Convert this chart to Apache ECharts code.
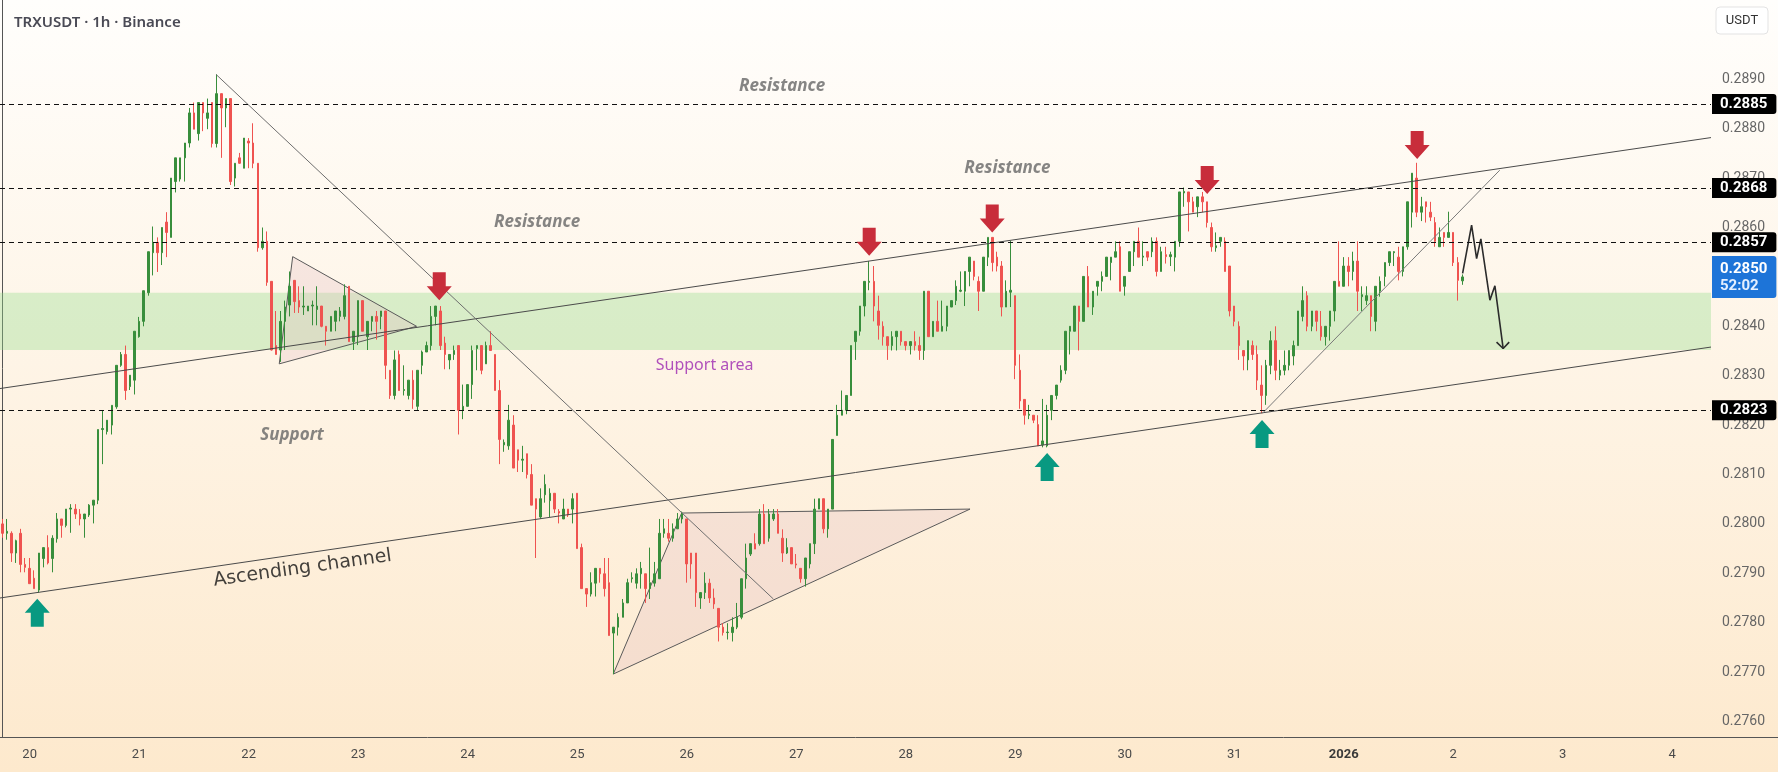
<!DOCTYPE html>
<html>
<head>
<meta charset="utf-8">
<title>TRXUSDT 1h</title>
<script src="https://cdn.jsdelivr.net/npm/echarts@6/dist/echarts.min.js"></script>
<style>
  html, body { margin: 0; padding: 0; }
  #main { width: 1778px; height: 772px; }
</style>
</head>
<body>
<div id="main"></div>
<script>
// hourly candles, first one = 19 Dec 18:00, last one = 2 Jan 02:00
var opens = [
  0.28000,0.27981,0.27981,0.27941,0.27981,0.27918,0.27910,0.27890,0.27866,0.27930,
  0.27952,0.27930,0.27970,0.28010,0.27997,0.28030,0.28030,0.28020,0.28010,0.28018,
  0.28038,0.28048,0.28191,0.28187,0.28200,0.28237,0.28321,0.28343,0.28278,0.28291,
  0.28379,0.28410,0.28468,0.28549,0.28570,0.28549,0.28611,0.28580,0.28693,0.28698,
  0.28741,0.28771,0.28832,0.28790,0.28853,0.28821,0.28853,0.28770,0.28871,0.28842,
  0.28861,0.28700,0.28741,0.28720,0.28775,0.28771,0.28730,0.28559,0.28572,0.28491,
  0.28361,0.28352,0.28410,0.28443,0.28493,0.28452,0.28439,0.28431,0.28441,0.28434,
  0.28441,0.28400,0.28390,0.28410,0.28420,0.28420,0.28481,0.28369,0.28379,0.28452,
  0.28379,0.28410,0.28420,0.28420,0.28431,0.28311,0.28260,0.28343,0.28270,0.28260,
  0.28291,0.28238,0.28321,0.28348,0.28361,0.28420,0.28431,0.28366,0.28332,0.28343,
  0.28361,0.28230,0.28238,0.28282,0.28355,0.28361,0.28324,0.28361,0.28343,0.28270,
  0.28160,0.28158,0.28200,0.28150,0.28129,0.28142,0.28100,0.28051,0.28014,0.28059,
  0.28047,0.28062,0.28025,0.28010,0.28030,0.28030,0.28062,0.27952,0.27869,0.27858,
  0.27880,0.27910,0.27899,0.27881,0.27779,0.27791,0.27811,0.27840,0.27889,0.27880,
  0.27899,0.27899,0.27869,0.27880,0.27889,0.27981,0.27981,0.27971,0.27990,0.28010,
  0.28010,0.27941,0.27941,0.27850,0.27861,0.27880,0.27850,0.27829,0.27791,0.27780,
  0.27780,0.27791,0.27811,0.27889,0.27939,0.27960,0.27960,0.28020,0.27971,0.28010,
  0.28020,0.27971,0.27941,0.27952,0.27919,0.27910,0.27889,0.27919,0.27960,0.28030,
  0.28051,0.27990,0.28030,0.28179,0.28220,0.28230,0.28260,0.28369,0.28390,0.28441,
  0.28489,0.28491,0.28431,0.28400,0.28379,0.28361,0.28379,0.28390,0.28369,0.28361,
  0.28369,0.28361,0.28351,0.28471,0.28379,0.28410,0.28390,0.28400,0.28439,0.28452,
  0.28471,0.28471,0.28511,0.28532,0.28491,0.28471,0.28540,0.28580,0.28540,0.28522,
  0.28439,0.28469,0.28462,0.28311,0.28252,0.28220,0.28220,0.28201,0.28160,0.28158,
  0.28230,0.28260,0.28291,0.28311,0.28390,0.28390,0.28441,0.28410,0.28501,0.28439,
  0.28481,0.28491,0.28501,0.28529,0.28540,0.28561,0.28481,0.28511,0.28551,0.28572,
  0.28540,0.28551,0.28551,0.28572,0.28511,0.28545,0.28541,0.28540,0.28572,0.28670,
  0.28672,0.28652,0.28642,0.28662,0.28652,0.28600,0.28559,0.28572,0.28572,0.28522,
  0.28441,0.28400,0.28351,0.28332,0.28361,0.28343,0.28281,0.28260,0.28321,0.28371,
  0.28301,0.28311,0.28321,0.28340,0.28361,0.28420,0.28462,0.28400,0.28431,0.28400,
  0.28379,0.28400,0.28431,0.28491,0.28481,0.28522,0.28511,0.28532,0.28460,0.28452,
  0.28462,0.28410,0.28471,0.28501,0.28529,0.28549,0.28540,0.28511,0.28561,0.28631,
  0.28700,0.28631,0.28652,0.28631,0.28610,0.28561,0.28590,0.28580,0.28590,0.28529,0.28492
];
var highs = [
  0.28010,0.28010,0.27985,0.27968,0.27990,0.27931,0.27931,0.27906,0.27941,0.27952,
  0.27977,0.27977,0.28022,0.28010,0.28030,0.28040,0.28040,0.28030,0.28020,0.28040,
  0.28048,0.28191,0.28230,0.28210,0.28240,0.28321,0.28348,0.28361,0.28301,0.28390,
  0.28419,0.28472,0.28551,0.28602,0.28580,0.28600,0.28631,0.28700,0.28741,0.28741,
  0.28771,0.28842,0.28853,0.28853,0.28853,0.28861,0.28853,0.28910,0.28871,0.28861,
  0.28861,0.28730,0.28751,0.28781,0.28781,0.28811,0.28730,0.28600,0.28592,0.28491,
  0.28431,0.28431,0.28452,0.28511,0.28493,0.28481,0.28481,0.28441,0.28452,0.28481,
  0.28441,0.28400,0.28420,0.28431,0.28439,0.28485,0.28481,0.28390,0.28452,0.28452,
  0.28410,0.28420,0.28431,0.28431,0.28431,0.28311,0.28351,0.28351,0.28321,0.28291,
  0.28311,0.28311,0.28351,0.28369,0.28441,0.28441,0.28441,0.28379,0.28343,0.28361,
  0.28361,0.28282,0.28282,0.28361,0.28361,0.28361,0.28369,0.28390,0.28343,0.28291,
  0.28171,0.28241,0.28220,0.28150,0.28158,0.28142,0.28121,0.28051,0.28072,0.28100,
  0.28072,0.28062,0.28030,0.28051,0.28030,0.28062,0.28062,0.27960,0.27869,0.27902,
  0.27910,0.27910,0.27931,0.27931,0.27791,0.27819,0.27848,0.27889,0.27902,0.27910,
  0.27923,0.27899,0.27952,0.27923,0.28010,0.28010,0.28010,0.28001,0.28022,0.28025,
  0.28010,0.27941,0.27941,0.27861,0.27902,0.27889,0.27869,0.27829,0.27799,0.27799,
  0.27811,0.27840,0.27889,0.27960,0.27960,0.27981,0.28030,0.28040,0.28030,0.28030,
  0.28030,0.27989,0.27971,0.27952,0.27939,0.27910,0.27931,0.27960,0.28051,0.28051,
  0.28051,0.28030,0.28171,0.28241,0.28270,0.28260,0.28361,0.28390,0.28441,0.28491,
  0.28532,0.28522,0.28462,0.28410,0.28379,0.28390,0.28390,0.28390,0.28369,0.28369,
  0.28390,0.28379,0.28471,0.28471,0.28410,0.28452,0.28452,0.28441,0.28452,0.28493,
  0.28511,0.28511,0.28540,0.28532,0.28501,0.28540,0.28580,0.28580,0.28551,0.28532,
  0.28493,0.28573,0.28462,0.28343,0.28252,0.28241,0.28220,0.28220,0.28253,0.28241,
  0.28260,0.28281,0.28321,0.28390,0.28400,0.28441,0.28441,0.28501,0.28522,0.28471,
  0.28491,0.28511,0.28540,0.28540,0.28572,0.28572,0.28501,0.28551,0.28572,0.28600,
  0.28572,0.28551,0.28580,0.28580,0.28561,0.28561,0.28551,0.28572,0.28672,0.28681,
  0.28672,0.28662,0.28662,0.28672,0.28652,0.28610,0.28590,0.28580,0.28580,0.28522,
  0.28441,0.28410,0.28351,0.28371,0.28371,0.28361,0.28321,0.28332,0.28390,0.28400,
  0.28332,0.28351,0.28351,0.28371,0.28431,0.28481,0.28471,0.28431,0.28431,0.28431,
  0.28400,0.28431,0.28491,0.28572,0.28540,0.28540,0.28551,0.28572,0.28481,0.28481,
  0.28462,0.28481,0.28501,0.28529,0.28551,0.28552,0.28561,0.28561,0.28652,0.28710,
  0.28731,0.28662,0.28652,0.28652,0.28621,0.28600,0.28590,0.28632,0.28590,0.28540,0.28505
];
var lows = [
  0.27972,0.27968,0.27923,0.27921,0.27902,0.27902,0.27879,0.27869,0.27861,0.27912,
  0.27918,0.27902,0.27962,0.27972,0.27993,0.27982,0.28010,0.27997,0.27972,0.28014,
  0.28001,0.28040,0.28121,0.28181,0.28181,0.28233,0.28318,0.28251,0.28271,0.28262,
  0.28377,0.28400,0.28462,0.28503,0.28510,0.28524,0.28540,0.28580,0.28671,0.28693,
  0.28693,0.28762,0.28799,0.28776,0.28795,0.28799,0.28762,0.28762,0.28741,0.28803,
  0.28686,0.28683,0.28729,0.28720,0.28720,0.28720,0.28551,0.28555,0.28482,0.28351,
  0.28343,0.28328,0.28352,0.28420,0.28427,0.28427,0.28423,0.28431,0.28402,0.28402,
  0.28398,0.28361,0.28390,0.28390,0.28410,0.28414,0.28369,0.28352,0.28362,0.28390,
  0.28352,0.28390,0.28373,0.28394,0.28293,0.28253,0.28252,0.28270,0.28260,0.28252,
  0.28233,0.28230,0.28303,0.28348,0.28351,0.28402,0.28352,0.28313,0.28313,0.28332,
  0.28181,0.28212,0.28238,0.28253,0.28311,0.28303,0.28324,0.28351,0.28270,0.28121,
  0.28146,0.28150,0.28113,0.28105,0.28105,0.28092,0.28038,0.27931,0.28010,0.28043,
  0.28014,0.28022,0.28001,0.28010,0.28014,0.28001,0.27950,0.27869,0.27832,0.27853,
  0.27853,0.27881,0.27853,0.27774,0.27696,0.27774,0.27811,0.27840,0.27881,0.27869,
  0.27869,0.27840,0.27848,0.27873,0.27889,0.27972,0.27964,0.27964,0.27990,0.28001,
  0.27881,0.27889,0.27832,0.27828,0.27848,0.27840,0.27828,0.27762,0.27774,0.27766,
  0.27762,0.27787,0.27807,0.27869,0.27935,0.27949,0.27956,0.27960,0.27964,0.28006,
  0.27981,0.27923,0.27939,0.27919,0.27910,0.27881,0.27873,0.27910,0.27939,0.28030,
  0.27981,0.27972,0.28030,0.28179,0.28220,0.28222,0.28260,0.28332,0.28381,0.28420,
  0.28473,0.28410,0.28373,0.28361,0.28332,0.28351,0.28351,0.28361,0.28351,0.28343,
  0.28351,0.28332,0.28332,0.28379,0.28379,0.28390,0.28390,0.28390,0.28439,0.28443,
  0.28469,0.28441,0.28481,0.28493,0.28431,0.28471,0.28522,0.28511,0.28511,0.28420,
  0.28439,0.28439,0.28293,0.28233,0.28201,0.28212,0.28204,0.28158,0.28155,0.28155,
  0.28210,0.28252,0.28286,0.28303,0.28343,0.28390,0.28351,0.28410,0.28439,0.28423,
  0.28462,0.28471,0.28501,0.28493,0.28540,0.28471,0.28462,0.28511,0.28522,0.28540,
  0.28522,0.28532,0.28540,0.28501,0.28511,0.28527,0.28522,0.28511,0.28561,0.28642,
  0.28592,0.28631,0.28621,0.28631,0.28600,0.28551,0.28551,0.28561,0.28511,0.28420,
  0.28400,0.28332,0.28311,0.28311,0.28332,0.28271,0.28224,0.28241,0.28303,0.28291,
  0.28291,0.28301,0.28311,0.28321,0.28361,0.28410,0.28390,0.28390,0.28390,0.28371,
  0.28361,0.28371,0.28410,0.28481,0.28481,0.28481,0.28493,0.28431,0.28431,0.28443,
  0.28390,0.28390,0.28460,0.28481,0.28522,0.28522,0.28493,0.28501,0.28555,0.28600,
  0.28621,0.28613,0.28610,0.28613,0.28561,0.28561,0.28561,0.28580,0.28522,0.28452,0.28484
];
var closes = [
  0.27981,0.27985,0.27941,0.27966,0.27918,0.27912,0.27879,0.27869,0.27941,0.27952,
  0.27921,0.27971,0.28010,0.27997,0.28030,0.28032,0.28020,0.28010,0.28020,0.28038,
  0.28048,0.28191,0.28193,0.28210,0.28240,0.28321,0.28343,0.28270,0.28301,0.28390,
  0.28410,0.28472,0.28551,0.28570,0.28549,0.28600,0.28590,0.28700,0.28741,0.28741,
  0.28771,0.28832,0.28799,0.28853,0.28832,0.28832,0.28770,0.28871,0.28842,0.28861,
  0.28693,0.28730,0.28730,0.28781,0.28771,0.28730,0.28559,0.28572,0.28489,0.28352,
  0.28343,0.28410,0.28439,0.28481,0.28450,0.28439,0.28441,0.28441,0.28443,0.28441,
  0.28400,0.28390,0.28420,0.28431,0.28431,0.28462,0.28369,0.28390,0.28452,0.28390,
  0.28410,0.28420,0.28410,0.28431,0.28321,0.28260,0.28332,0.28270,0.28272,0.28291,
  0.28252,0.28311,0.28348,0.28361,0.28420,0.28441,0.28361,0.28343,0.28343,0.28351,
  0.28230,0.28238,0.28282,0.28351,0.28361,0.28311,0.28361,0.28351,0.28270,0.28171,
  0.28165,0.28210,0.28113,0.28129,0.28131,0.28100,0.28038,0.28030,0.28051,0.28080,
  0.28062,0.28030,0.28022,0.28030,0.28018,0.28051,0.27950,0.27869,0.27858,0.27881,
  0.27910,0.27899,0.27869,0.27774,0.27791,0.27811,0.27840,0.27881,0.27891,0.27899,
  0.27910,0.27869,0.27881,0.27899,0.27981,0.27990,0.27971,0.27990,0.28010,0.28022,
  0.27919,0.27919,0.27861,0.27861,0.27880,0.27850,0.27838,0.27791,0.27780,0.27781,
  0.27791,0.27811,0.27889,0.27931,0.27960,0.27949,0.28020,0.27960,0.28020,0.28020,
  0.27981,0.27941,0.27952,0.27919,0.27917,0.27889,0.27931,0.27960,0.28030,0.28051,
  0.27990,0.28030,0.28171,0.28220,0.28230,0.28260,0.28361,0.28390,0.28441,0.28491,
  0.28491,0.28441,0.28402,0.28379,0.28361,0.28379,0.28390,0.28369,0.28361,0.28369,
  0.28361,0.28351,0.28471,0.28379,0.28410,0.28390,0.28400,0.28441,0.28452,0.28481,
  0.28473,0.28511,0.28540,0.28501,0.28471,0.28540,0.28580,0.28529,0.28522,0.28439,
  0.28471,0.28473,0.28321,0.28249,0.28220,0.28222,0.28210,0.28158,0.28168,0.28220,
  0.28260,0.28281,0.28311,0.28390,0.28400,0.28441,0.28410,0.28501,0.28439,0.28471,
  0.28491,0.28501,0.28540,0.28540,0.28551,0.28471,0.28501,0.28551,0.28572,0.28540,
  0.28542,0.28540,0.28572,0.28511,0.28551,0.28541,0.28545,0.28572,0.28672,0.28673,
  0.28652,0.28631,0.28662,0.28652,0.28610,0.28561,0.28563,0.28580,0.28511,0.28431,
  0.28410,0.28361,0.28340,0.28371,0.28343,0.28291,0.28260,0.28321,0.28371,0.28311,
  0.28311,0.28321,0.28351,0.28361,0.28431,0.28452,0.28400,0.28431,0.28410,0.28379,
  0.28400,0.28431,0.28491,0.28481,0.28522,0.28511,0.28532,0.28471,0.28464,0.28462,
  0.28420,0.28481,0.28491,0.28529,0.28551,0.28551,0.28511,0.28561,0.28652,0.28710,
  0.28631,0.28642,0.28642,0.28621,0.28572,0.28580,0.28580,0.28590,0.28529,0.28493,0.28500
];

// day labels under each midnight (first midnight is slot 6)
var dayLabels = ['20', '21', '22', '23', '24', '25', '26', '27', '28', '29', '30', '31', '2026', '2', '3', '4'];
var firstMidnight = 6;
var slotCount = 375;

// drawn levels
var levels = [0.2885, 0.2868, 0.2857, 0.2823];
var lastPrice = 0.2850;
var supportBand = [0.28352, 0.28468];

// drawings, in [slot, price]
var lowerChannel = [[-0.5, 0.27850], [374.5, 0.28358]];
var upperChannel = [[-0.5, 0.28274], [374.5, 0.28782]];
var fallLine = [[46.84, 0.28910], [169.0, 0.27848]];
var riseLine = [[276.2, 0.28224], [328.2, 0.28716]];
var triangles = [
  [63.65, 0.28541, 90.8, 0.28400, 60.7, 0.28324],
  [133.9, 0.27696, 148.9, 0.28022, 212.1, 0.28030]
];
var projection = [[320.06, 0.28507], [322.03, 0.28605], [323.13, 0.28537], [324.06, 0.28577],
  [326.04, 0.28453], [327.14, 0.28482], [328.95, 0.28355]];
var projectionHead = [[327.5, 0.28368], [328.95, 0.28355], [330.27, 0.28368]];
var sellArrows = [[95.77, 0.28481], [190.0, 0.28571], [216.97, 0.28618], [264.08, 0.28696], [310.1, 0.28767]];
var buyArrows = [[7.67, 0.27820], [229.0, 0.28115], [276.1, 0.28182]];

var categories = [];
var t0 = Date.UTC(2025, 11, 19, 18);
for (var k = 0; k < slotCount; k++) {
  var d = new Date(t0 + k * 3600000);
  categories.push(d.toISOString().slice(0, 13).replace('T', ' ') + ':00');
}

var candles = [];
for (var i = 0; i < opens.length; i++) {
  candles.push([opens[i], closes[i], lows[i], highs[i]]);
}

var upColor = '#388e3c';
var downColor = '#ef5350';
var noteFont = 'Noto Sans';

function trend(data, color, width) {
  return {
    type: 'line', xAxisIndex: 1, yAxisIndex: 0, data: data,
    symbol: 'none', silent: true, z: 4,
    lineStyle: { color: color, width: width }
  };
}

function noteItem(text, pos, style) {
  return { name: text, value: pos, label: style };
}

var resistStyle = { color: '#666', fontSize: 17, fontWeight: 'bold', fontStyle: 'italic', fontFamily: noteFont };

var myChart = echarts.init(document.getElementById('main'));
var option = {
  animation: false,
  backgroundColor: {
    type: 'linear', x: 0, y: 0, x2: 0, y2: 1,
    colorStops: [{ offset: 0, color: '#fffefc' }, { offset: 1, color: '#fde9cd' }]
  },
  title: {
    text: 'TRXUSDT · 1h · Binance',
    left: 9, top: 10,
    textStyle: { fontSize: 15, fontWeight: 600, color: '#4a4a55', fontFamily: noteFont }
  },
  grid: { left: 0, right: 67, top: 0, bottom: 35 },
  xAxis: [{
    type: 'category',
    data: categories,
    boundaryGap: true,
    axisLine: { lineStyle: { color: '#555' } },
    axisTick: { show: false },
    splitLine: { show: false },
    axisLabel: {
      interval: function(index) { return (index - firstMidnight) % 24 === 0; },
      formatter: function(v, index) {
        var lab = dayLabels[(index - firstMidnight) / 24];
        if (lab === '2026') return '{b|2026}';
        return lab;
      },
      color: '#4a4a4a', fontSize: 13, margin: 11, fontFamily: 'Roboto',
      rich: { b: { fontWeight: 'bold', fontSize: 13, color: '#3a3a3a', fontFamily: 'Roboto' } }
    }
  }, {
    type: 'value', min: -0.5, max: slotCount - 0.5, show: false
  }],
  yAxis: [{
    type: 'value',
    position: 'right',
    min: 0.2756862,
    max: 0.2906053,
    splitNumber: 15,
    scale: true,
    axisLine: { show: true, lineStyle: { color: '#555' } },
    axisTick: { show: false },
    splitLine: { show: false },
    axisLabel: {
      showMinLabel: false, showMaxLabel: false,
      margin: 11, color: '#666', fontSize: 14, fontFamily: 'Roboto',
      formatter: function(v) { return v > 0.2895 ? '' : v.toFixed(4); }
    }
  }],
  series: [
    {
      // pink triangles
      type: 'custom', xAxisIndex: 1, yAxisIndex: 0, silent: true, z: 1,
      dimensions: ['x1', 'y1', 'x2', 'y2', 'x3', 'y3'],
      encode: { x: [0, 2, 4], y: [1, 3, 5] },
      data: triangles,
      renderItem: function(params, api) {
        var pts = [
          api.coord([api.value(0), api.value(1)]),
          api.coord([api.value(2), api.value(3)]),
          api.coord([api.value(4), api.value(5)])
        ];
        return {
          type: 'polygon',
          shape: { points: pts },
          style: { fill: 'rgba(225,185,195,0.28)', stroke: '#5a5a5a', lineWidth: 1 }
        };
      }
    },
    {
      type: 'candlestick',
      data: candles,
      barWidth: 2,
      z: 3,
      itemStyle: {
        color: upColor, color0: downColor,
        borderColor: upColor, borderColor0: downColor,
        borderWidth: 1
      },
      markArea: {
        silent: true,
        itemStyle: { color: 'rgba(150,222,140,0.36)' },
        data: [[{ yAxis: supportBand[0] }, { yAxis: supportBand[1] }]]
      },
      markLine: {
        silent: true,
        symbol: 'none',
        precision: 4,
        lineStyle: { color: '#111', width: 1, type: [5, 4] },
        label: {
          position: 'end', distance: 1,
          backgroundColor: '#000', color: '#fff',
          fontWeight: 'bold', fontSize: 15, fontFamily: 'Roboto',
          padding: [3, 9, 2, 8], borderRadius: [0, 3, 3, 0],
          formatter: function(p) { return Number(p.value).toFixed(4); }
        },
        data: levels.map(function(v) { return { yAxis: v }; }).concat([{
          yAxis: lastPrice,
          lineStyle: { color: 'rgba(0,0,0,0)', width: 0 },
          label: {
            backgroundColor: '#1d74d8', color: '#fff',
            padding: [4, 9, 3, 8], borderRadius: [0, 3, 3, 0],
            formatter: function(p) { return '{a|' + Number(p.value).toFixed(4) + '}\n{c|52:02}'; },
            rich: {
              a: { fontSize: 15, fontWeight: 'bold', color: '#fff', fontFamily: 'Roboto', lineHeight: 18 },
              c: { fontSize: 15, color: '#e4efff', fontFamily: 'Roboto', lineHeight: 17 }
            }
          }
        }])
      }
    },
    trend(lowerChannel, '#4a4a4a', 1),
    trend(upperChannel, '#4a4a4a', 1),
    trend(fallLine, '#6e6e6e', 1),
    trend(riseLine, '#7a7a7a', 1),
    trend(projection, '#2b2b2b', 1.6),
    trend(projectionHead, '#2b2b2b', 1.6),
    {
      type: 'scatter', xAxisIndex: 1, yAxisIndex: 0, silent: true, z: 6,
      data: sellArrows,
      symbol: 'path://M6,0 H19 V14 H25 L12.5,28 L0,14 H6 Z',
      symbolSize: [25, 28],
      itemStyle: { color: '#c82d3b', opacity: 1 }
    },
    {
      type: 'scatter', xAxisIndex: 1, yAxisIndex: 0, silent: true, z: 6,
      data: buyArrows,
      symbol: 'path://M12.5,0 L25,14 H19 V28 H6 V14 H0 Z',
      symbolSize: [25, 28],
      itemStyle: { color: '#089981', opacity: 1 }
    },
    {
      type: 'scatter', xAxisIndex: 1, yAxisIndex: 0, silent: true, z: 7,
      symbolSize: 1,
      itemStyle: { color: 'rgba(0,0,0,0)' },
      label: { show: true, position: 'inside', formatter: '{b}' },
      data: [
        noteItem('Resistance', [170.9, 0.28886], resistStyle),
        noteItem('Resistance', [220.3, 0.28721], resistStyle),
        noteItem('Resistance', [117.2, 0.28610], resistStyle),
        noteItem('Support', [63.5, 0.28180], resistStyle),
        noteItem('Support area', [153.94, 0.28321], { color: '#9c27b0', fontSize: 16, fontFamily: noteFont }),
        noteItem('Ascending channel', [65.8, 0.27910], { color: '#111', fontSize: 19, fontFamily: 'DejaVu Sans', rotate: 8 })
      ]
    }
  ],
  graphic: [
    {
      type: 'line', silent: true,
      shape: { x1: 1711, y1: 737.5, x2: 1778, y2: 737.5 },
      style: { stroke: '#555', lineWidth: 1 }
    },
    {
      type: 'rect', silent: true,
      shape: { x: 1716, y: 7, width: 52, height: 27, r: 4 },
      style: { fill: '#ffffff', stroke: '#e3e3e3', lineWidth: 1 }
    },
    {
      type: 'text', silent: true, x: 1742, y: 20.5,
      style: { text: 'USDT', fill: '#333', fontSize: 13, fontFamily: 'Roboto', align: 'center', verticalAlign: 'middle' }
    }
  ]
};
myChart.setOption(option);
</script>
</body>
</html>
